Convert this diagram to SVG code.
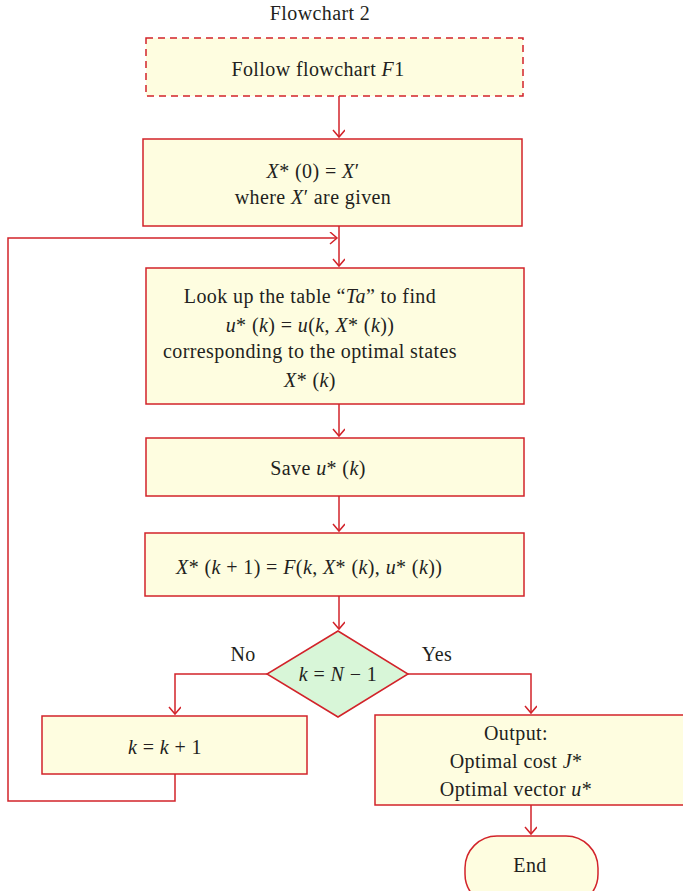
<svg xmlns="http://www.w3.org/2000/svg" width="683" height="891" viewBox="0 0 683 891">
<style>
text{font-family:"Liberation Serif","DejaVu Serif",serif;font-size:20px;letter-spacing:0.4px;fill:#231f20;text-anchor:middle}
.i{font-style:italic}
.box{fill:#fefde0;stroke:#d2232a;stroke-width:1.5}
.ln{fill:none;stroke:#d2232a;stroke-width:1.5}
</style>
<defs>
<marker id="ah" markerWidth="14" markerHeight="14" refX="10" refY="6" orient="auto" markerUnits="userSpaceOnUse">
<path d="M3,0 L10,6 L3,12" fill="none" stroke="#d2232a" stroke-width="1.5"/>
</marker>
</defs>
<text x="320" y="20">Flowchart 2</text>
<g id="connectors">
<path class="ln" d="M339,96 V137" marker-end="url(#ah)"/>
<path class="ln" d="M339,226 V266" marker-end="url(#ah)"/>
<path class="ln" d="M339,404 V436" marker-end="url(#ah)"/>
<path class="ln" d="M339,496 V531" marker-end="url(#ah)"/>
<path class="ln" d="M339,596 V629" marker-end="url(#ah)"/>
<path class="ln" d="M267,674 H175 V714" marker-end="url(#ah)"/>
<path class="ln" d="M408,674 H531 V713" marker-end="url(#ah)"/>
<path class="ln" d="M175,774 V801 H8 V238 H337" marker-end="url(#ah)"/>
<path class="ln" d="M531,805 V834" marker-end="url(#ah)"/>
</g>
<g id="follow">
<rect class="box" x="146" y="38" width="377" height="58" stroke-dasharray="7,5"/>
<text x="318" y="76">Follow flowchart <tspan class="i">F</tspan>1</text>
</g>
<g id="init">
<rect class="box" x="143" y="139" width="379" height="87"/>
<text x="313" y="178"><tspan class="i">X</tspan>* (0) = <tspan class="i">X</tspan>′</text>
<text x="313" y="204">where <tspan class="i">X</tspan>′ are given</text>
</g>
<g id="lookup">
<rect class="box" x="146" y="268" width="378" height="136"/>
<text x="310" y="303">Look up the table “<tspan class="i">Ta</tspan>” to find</text>
<text x="310" y="332"><tspan class="i">u</tspan>* (<tspan class="i">k</tspan>) = <tspan class="i">u</tspan>(<tspan class="i">k</tspan>, <tspan class="i">X</tspan>* (<tspan class="i">k</tspan>))</text>
<text x="310" y="358">corresponding to the optimal states</text>
<text x="310" y="387"><tspan class="i">X</tspan>* (<tspan class="i">k</tspan>)</text>
</g>
<g id="save">
<rect class="box" x="146" y="438" width="378" height="58"/>
<text x="318" y="475">Save <tspan class="i">u</tspan>* (<tspan class="i">k</tspan>)</text>
</g>
<g id="update">
<rect class="box" x="145" y="533" width="379" height="63"/>
<text x="176" y="574" style="text-anchor:start"><tspan class="i">X</tspan>* (<tspan class="i">k</tspan> + 1) = <tspan class="i">F</tspan>(<tspan class="i">k</tspan>, <tspan class="i">X</tspan>* (<tspan class="i">k</tspan>), <tspan class="i">u</tspan>* (<tspan class="i">k</tspan>))</text>
</g>
<g id="decision">
<polygon points="338,631 408,674 338,717 267,674" fill="#d8f6d8" stroke="#d2232a" stroke-width="1.5"/>
<text x="338" y="681"><tspan class="i">k</tspan> = <tspan class="i">N</tspan> − 1</text>
<text x="243" y="661">No</text>
<text x="437" y="661">Yes</text>
</g>
<g id="increment">
<rect class="box" x="42" y="716" width="265" height="58"/>
<text x="165" y="754"><tspan class="i">k</tspan> = <tspan class="i">k</tspan> + 1</text>
</g>
<g id="output">
<rect class="box" x="375" y="715" width="312" height="90"/>
<text x="516" y="740">Output:</text>
<text x="516" y="768">Optimal cost <tspan class="i">J</tspan>*</text>
<text x="516" y="796">Optimal vector <tspan class="i">u</tspan>*</text>
</g>
<g id="end">
<rect class="box" x="465" y="836" width="133" height="70" rx="32" ry="32"/>
<text x="530" y="872">End</text>
</g>
</svg>
